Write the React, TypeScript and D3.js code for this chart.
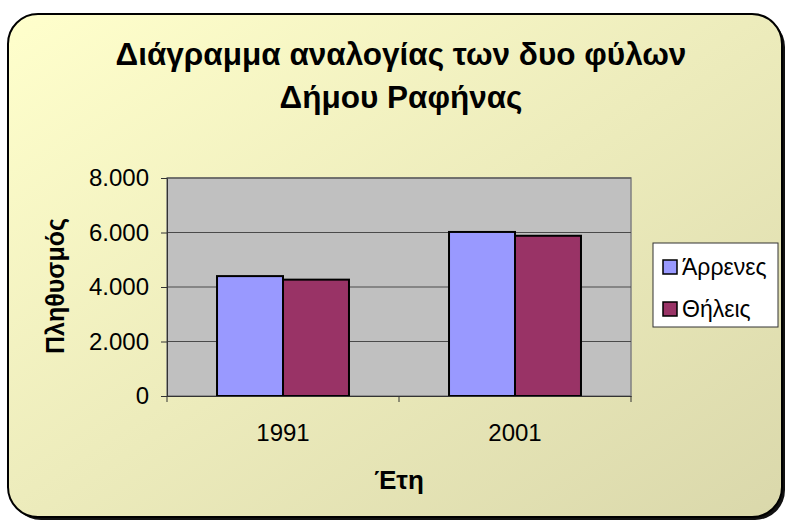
import * as d3 from 'd3';
import { useEffect, useRef } from 'react';

const years = ['1991', '2001'];
const seriesNames = ['Άρρενες', 'Θήλεις'];
const maleValues = [4400, 6020];
const femaleValues = [4270, 5880];
const yTicks = [0, 2000, 4000, 6000, 8000];
const colors = ['#9999FF', '#993366'];

const width = 786;
const height = 522;

const fmt = (v: number) => (v === 0 ? '0' : d3.format(',')(v).replace(/,/g, '.'));

export default function App() {
  const svgRef = useRef<SVGSVGElement>(null);

  useEffect(() => {
    const svg = d3.select(svgRef.current);
    svg.selectAll('*').remove();
    const font = 'Liberation Sans, Arial, sans-serif';

    const defs = svg.append('defs');
    const grad = defs
      .append('linearGradient')
      .attr('id', 'bg')
      .attr('x1', '0%')
      .attr('y1', '0%')
      .attr('x2', '100%')
      .attr('y2', '100%');
    grad.append('stop').attr('offset', '0%').attr('stop-color', '#FFFFCC');
    grad.append('stop').attr('offset', '100%').attr('stop-color', '#DAD8AB');

    // chart frame + shadow
    svg
      .append('rect')
      .attr('x', 11)
      .attr('y', 17)
      .attr('width', 774)
      .attr('height', 503)
      .attr('rx', 30)
      .attr('fill', '#111');
    svg
      .append('rect')
      .attr('x', 8)
      .attr('y', 14)
      .attr('width', 774)
      .attr('height', 503)
      .attr('rx', 30)
      .attr('fill', 'url(#bg)')
      .attr('stroke', '#000')
      .attr('stroke-width', 2);

    // title
    const title = svg
      .append('text')
      .attr('text-anchor', 'middle')
      .attr('font-family', font)
      .attr('font-weight', 'bold')
      .attr('font-size', 31.5)
      .attr('fill', '#000');
    title.append('tspan').attr('x', 401).attr('y', 65).text('Διάγραμμα αναλογίας των δυο φύλων');
    title.append('tspan').attr('x', 401).attr('y', 108).text('Δήμου Ραφήνας');

    const plot = { left: 167, right: 631, top: 178, bottom: 396 };

    const x0 = d3.scaleBand().domain(years).range([plot.left, plot.right]);
    const x1 = d3
      .scaleBand()
      .domain(seriesNames)
      .range([0, x0.bandwidth()])
      .paddingOuter(0.758)
      .paddingInner(0);
    const y = d3.scaleLinear().domain([0, 8000]).range([plot.bottom, plot.top]);

    svg
      .append('rect')
      .attr('x', plot.left)
      .attr('y', plot.top)
      .attr('width', plot.right - plot.left)
      .attr('height', plot.bottom - plot.top)
      .attr('fill', '#C0C0C0')
      .attr('stroke', '#808080')
      .attr('stroke-width', 1.5);

    // gridlines
    svg
      .append('g')
      .selectAll('line')
      .data(yTicks.slice(1))
      .join('line')
      .attr('x1', plot.left)
      .attr('x2', plot.right)
      .attr('y1', (d) => y(d))
      .attr('y2', (d) => y(d))
      .attr('stroke', '#4a4a4a')
      .attr('stroke-width', 1);

    // bars
    const data = years.map((yr, i) => ({ year: yr, values: [maleValues[i], femaleValues[i]] }));
    svg
      .append('g')
      .selectAll('g')
      .data(data)
      .join('g')
      .attr('transform', (d) => `translate(${x0(d.year)},0)`)
      .selectAll('rect')
      .data((d) => d.values.map((v, j) => ({ name: seriesNames[j], v, j })))
      .join('rect')
      .attr('x', (d) => x1(d.name)!)
      .attr('y', (d) => y(d.v))
      .attr('width', x1.bandwidth())
      .attr('height', (d) => y(0) - y(d.v))
      .attr('fill', (d) => colors[d.j])
      .attr('stroke', '#000')
      .attr('stroke-width', 2);

    // y axis
    const yAxis = svg
      .append('g')
      .attr('transform', `translate(${plot.left},0)`)
      .call(
        d3
          .axisLeft(y)
          .tickValues(yTicks)
          .tickSize(6)
          .tickFormat((d) => fmt(d as number))
      );
    yAxis.select('.domain').attr('stroke', '#333');
    yAxis.selectAll('.tick line').attr('stroke', '#333');
    yAxis
      .selectAll('.tick text')
      .attr('font-family', font)
      .attr('font-size', 24)
      .attr('fill', '#000')
      .attr('x', -18);

    // x axis
    const xAxis = svg
      .append('g')
      .attr('transform', `translate(0,${plot.bottom})`)
      .call(d3.axisBottom(x0).tickSize(0));
    xAxis.select('.domain').attr('stroke', '#333');
    xAxis
      .selectAll('.tick text')
      .attr('font-family', font)
      .attr('font-size', 24)
      .attr('fill', '#000')
      .attr('dy', 0)
      .attr('y', 45);
    const xTickPos = [plot.left, ...years.map((yr) => x0(yr)! + x0.bandwidth())];
    svg
      .append('g')
      .selectAll('line')
      .data(xTickPos)
      .join('line')
      .attr('x1', (d) => d)
      .attr('x2', (d) => d)
      .attr('y1', plot.bottom)
      .attr('y2', plot.bottom + 6)
      .attr('stroke', '#333');

    // axis titles
    svg
      .append('text')
      .attr('x', 399)
      .attr('y', 489)
      .attr('text-anchor', 'middle')
      .attr('font-family', font)
      .attr('font-weight', 'bold')
      .attr('font-size', 26)
      .text('Έτη');
    svg
      .append('text')
      .attr('transform', `translate(64,286) rotate(-90)`)
      .attr('text-anchor', 'middle')
      .attr('font-family', font)
      .attr('font-weight', 'bold')
      .attr('font-size', 25)
      .text('Πληθυσμός');

    // legend
    const lg = svg.append('g').attr('transform', 'translate(653,243)');
    lg.append('rect')
      .attr('width', 125)
      .attr('height', 84)
      .attr('fill', '#FFFFFF')
      .attr('stroke', '#333')
      .attr('stroke-width', 1);
    const items = lg
      .selectAll('g')
      .data(seriesNames)
      .join('g')
      .attr('transform', (_, i) => `translate(10,${24 + i * 42})`);
    items
      .append('rect')
      .attr('x', 0)
      .attr('y', -7)
      .attr('width', 14)
      .attr('height', 14)
      .attr('fill', (_, i) => colors[i])
      .attr('stroke', '#000')
      .attr('stroke-width', 1.5);
    items
      .append('text')
      .attr('x', 19)
      .attr('y', 8)
      .attr('font-family', font)
      .attr('font-size', 23)
      .text((d) => d);
  }, []);

  return (
    <svg
      ref={svgRef}
      width={width}
      height={height}
      style={{ position: 'absolute', left: 0, top: 0 }}
    />
  );
}
